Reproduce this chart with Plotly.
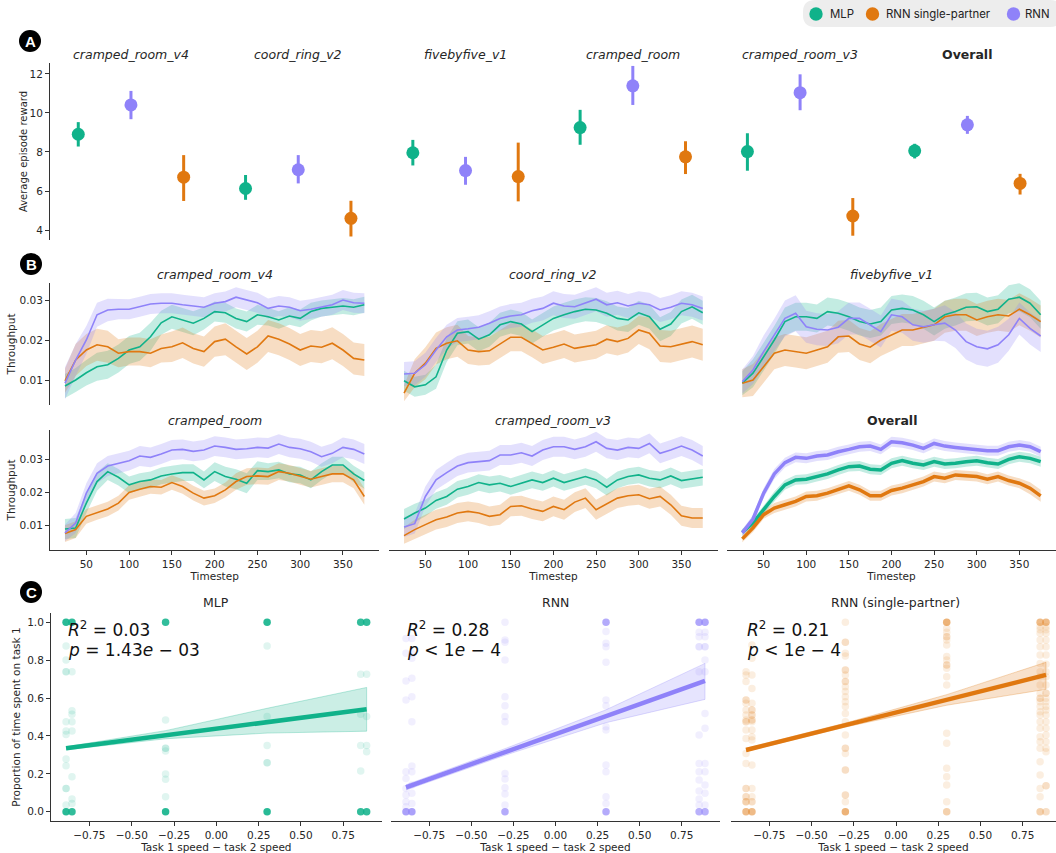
import plotly.graph_objects as go

W, H = 1056, 853
def px(x): return x / W
def py(y): return 1 - y / H

GREEN = "#10b28a"
ORANGE = "#e07810"
PURPLE = "#8f82f9"
FONT = "DejaVu Sans"
TXT = "#262626"

def rgba(hexc, a):
    h = hexc.lstrip("#")
    return f"rgba({int(h[0:2],16)},{int(h[2:4],16)},{int(h[4:6],16)},{a})"

# ---------------- Panel A data ----------------
envs = ["cramped_room_v4", "coord_ring_v2", "fivebyfive_v1", "cramped_room", "cramped_room_v3", "Overall"]
mlp_mean = [8.91, 6.13, 7.96, 9.25, 8.02, 8.06]
mlp_lo = [8.28, 5.55, 7.31, 8.37, 7.04, 7.67]
mlp_hi = [9.53, 6.82, 8.62, 10.16, 8.96, 8.42]
rnn_mean = [10.41, 7.09, 7.05, 11.39, 11.04, 9.39]
rnn_lo = [9.68, 6.39, 6.32, 10.41, 10.14, 8.93]
rnn_hi = [11.13, 7.84, 7.75, 12.41, 11.98, 9.85]
sp_mean = [6.71, 4.60, 6.74, 7.75, 4.72, 6.39]
sp_lo = [5.49, 3.67, 5.47, 6.87, 3.71, 5.82]
sp_hi = [7.84, 5.50, 8.48, 8.55, 5.64, 6.88]

# ---------------- Panel B data ----------------
timesteps = [25, 37.5, 50, 62.5, 75, 87.5, 100, 112.5, 125, 137.5, 150, 162.5, 175, 187.5, 200,
             212.5, 225, 237.5, 250, 262.5, 275, 287.5, 300, 312.5, 325, 337.5, 350, 362.5, 375]

crv4_mlp = [0.0085,0.0100,0.0118,0.0133,0.0138,0.0154,0.0175,0.0183,0.0208,0.0243,0.0258,0.0250,0.0242,0.0254,0.0271,0.0268,0.0254,0.0246,0.0263,0.0258,0.0250,0.0260,0.0254,0.0271,0.0279,0.0282,0.0285,0.0282,0.0288]
crv4_rnn = [0.0092,0.0150,0.0200,0.0263,0.0275,0.0277,0.0277,0.0283,0.0290,0.0292,0.0292,0.0288,0.0285,0.0282,0.0292,0.0296,0.0307,0.0300,0.0293,0.0279,0.0285,0.0282,0.0273,0.0277,0.0283,0.0288,0.0300,0.0293,0.0292]
crv4_sp = [0.0098,0.0150,0.0175,0.0188,0.0183,0.0167,0.0171,0.0171,0.0167,0.0179,0.0183,0.0193,0.0179,0.0171,0.0196,0.0202,0.0183,0.0165,0.0183,0.0210,0.0202,0.0190,0.0175,0.0185,0.0182,0.0192,0.0175,0.0154,0.0150]
crv4_mlp_ci = [0.0030,0.0030,0.0032,0.0035,0.0035,0.0035,0.0035,0.0035,0.0035,0.0030,0.0030,0.0030,0.0030,0.0028,0.0025,0.0025,0.0025,0.0025,0.0025,0.0022,0.0022,0.0022,0.0022,0.0022,0.0020,0.0020,0.0020,0.0020,0.0020]
crv4_rnn_ci = [0.0040,0.0040,0.0035,0.0030,0.0028,0.0025,0.0025,0.0025,0.0025,0.0025,0.0025,0.0025,0.0025,0.0025,0.0025,0.0025,0.0025,0.0025,0.0025,0.0025,0.0025,0.0025,0.0025,0.0025,0.0025,0.0025,0.0025,0.0025,0.0025]
crv4_sp_ci = [0.0030,0.0040,0.0040,0.0040,0.0040,0.0035,0.0035,0.0035,0.0035,0.0035,0.0038,0.0038,0.0038,0.0038,0.0038,0.0040,0.0040,0.0040,0.0040,0.0040,0.0040,0.0040,0.0040,0.0040,0.0040,0.0040,0.0040,0.0040,0.0040]

cring_mlp = [0.0098,0.0083,0.0088,0.0108,0.0175,0.0217,0.0221,0.0202,0.0213,0.0238,0.0246,0.0240,0.0221,0.0238,0.0254,0.0263,0.0271,0.0277,0.0275,0.0267,0.0254,0.0250,0.0268,0.0258,0.0227,0.0240,0.0271,0.0283,0.0268]
cring_rnn = [0.0115,0.0117,0.0138,0.0175,0.0208,0.0225,0.0228,0.0232,0.0242,0.0254,0.0260,0.0263,0.0273,0.0279,0.0292,0.0285,0.0283,0.0292,0.0302,0.0288,0.0293,0.0285,0.0292,0.0288,0.0275,0.0282,0.0292,0.0288,0.0279]
cring_sp = [0.0067,0.0117,0.0142,0.0179,0.0192,0.0198,0.0175,0.0171,0.0173,0.0190,0.0207,0.0207,0.0192,0.0175,0.0182,0.0190,0.0179,0.0183,0.0188,0.0202,0.0196,0.0204,0.0225,0.0217,0.0185,0.0183,0.0190,0.0196,0.0188]
cring_mlp_ci = [0.0025,0.0025,0.0025,0.0030,0.0030,0.0030,0.0030,0.0030,0.0030,0.0030,0.0030,0.0030,0.0030,0.0030,0.0030,0.0030,0.0030,0.0030,0.0030,0.0030,0.0030,0.0030,0.0030,0.0030,0.0030,0.0030,0.0030,0.0030,0.0030]
cring_rnn_ci = [0.0030,0.0030,0.0030,0.0030,0.0030,0.0030,0.0030,0.0030,0.0030,0.0030,0.0030,0.0030,0.0030,0.0030,0.0030,0.0030,0.0030,0.0030,0.0030,0.0030,0.0030,0.0030,0.0030,0.0030,0.0030,0.0030,0.0030,0.0030,0.0030]
cring_sp_ci = [0.0020,0.0035,0.0040,0.0040,0.0040,0.0040,0.0035,0.0035,0.0035,0.0035,0.0035,0.0035,0.0035,0.0035,0.0035,0.0035,0.0035,0.0035,0.0035,0.0035,0.0035,0.0035,0.0035,0.0040,0.0040,0.0040,0.0040,0.0040,0.0040]

fbf_mlp = [0.0092,0.0117,0.0158,0.0200,0.0246,0.0258,0.0258,0.0254,0.0271,0.0267,0.0258,0.0246,0.0240,0.0246,0.0275,0.0279,0.0275,0.0263,0.0246,0.0263,0.0271,0.0282,0.0283,0.0271,0.0277,0.0302,0.0307,0.0292,0.0263]
fbf_rnn = [0.0096,0.0125,0.0171,0.0213,0.0254,0.0267,0.0233,0.0227,0.0225,0.0232,0.0254,0.0254,0.0238,0.0221,0.0263,0.0258,0.0238,0.0233,0.0238,0.0242,0.0225,0.0196,0.0183,0.0178,0.0188,0.0213,0.0254,0.0229,0.0210]
fbf_sp = [0.0092,0.0100,0.0133,0.0167,0.0175,0.0171,0.0167,0.0175,0.0183,0.0208,0.0210,0.0190,0.0182,0.0200,0.0213,0.0225,0.0225,0.0232,0.0238,0.0258,0.0263,0.0263,0.0250,0.0258,0.0263,0.0260,0.0277,0.0263,0.0246]
fbf_mlp_ci = [0.0030,0.0035,0.0035,0.0035,0.0035,0.0035,0.0035,0.0035,0.0035,0.0035,0.0035,0.0035,0.0035,0.0035,0.0035,0.0035,0.0035,0.0035,0.0035,0.0035,0.0035,0.0035,0.0035,0.0035,0.0035,0.0035,0.0035,0.0035,0.0035]
fbf_rnn_ci = [0.0030,0.0035,0.0040,0.0040,0.0045,0.0045,0.0040,0.0040,0.0040,0.0040,0.0040,0.0040,0.0040,0.0040,0.0040,0.0040,0.0040,0.0040,0.0040,0.0045,0.0045,0.0045,0.0045,0.0045,0.0045,0.0040,0.0040,0.0040,0.0040]
fbf_sp_ci = [0.0035,0.0040,0.0040,0.0040,0.0040,0.0040,0.0040,0.0040,0.0040,0.0040,0.0040,0.0040,0.0040,0.0040,0.0040,0.0040,0.0040,0.0040,0.0040,0.0040,0.0040,0.0040,0.0040,0.0040,0.0040,0.0040,0.0040,0.0040,0.0040]

cr_mlp = [0.0089,0.0092,0.0167,0.0232,0.0262,0.0245,0.0222,0.0232,0.0237,0.0249,0.0255,0.0259,0.0259,0.0237,0.0262,0.0247,0.0239,0.0227,0.0265,0.0262,0.0267,0.0255,0.0252,0.0237,0.0262,0.0282,0.0282,0.0255,0.0235]
cr_rnn = [0.0077,0.0107,0.0197,0.0257,0.0279,0.0287,0.0295,0.0309,0.0305,0.0315,0.0327,0.0329,0.0323,0.0327,0.0339,0.0335,0.0329,0.0331,0.0335,0.0333,0.0345,0.0335,0.0331,0.0322,0.0307,0.0317,0.0335,0.0329,0.0315]
cr_sp = [0.0075,0.0087,0.0127,0.0139,0.0149,0.0167,0.0199,0.0209,0.0217,0.0215,0.0229,0.0217,0.0197,0.0182,0.0189,0.0207,0.0232,0.0247,0.0249,0.0247,0.0262,0.0257,0.0247,0.0239,0.0247,0.0255,0.0255,0.0237,0.0187]
cr_mlp_ci = [0.0030,0.0030,0.0030,0.0028,0.0025,0.0025,0.0025,0.0025,0.0025,0.0025,0.0025,0.0025,0.0025,0.0025,0.0028,0.0030,0.0030,0.0030,0.0028,0.0025,0.0025,0.0025,0.0025,0.0025,0.0025,0.0025,0.0025,0.0025,0.0025]
cr_rnn_ci = [0.0025,0.0030,0.0030,0.0030,0.0030,0.0030,0.0030,0.0030,0.0030,0.0030,0.0030,0.0030,0.0030,0.0030,0.0030,0.0030,0.0030,0.0030,0.0030,0.0030,0.0030,0.0030,0.0030,0.0030,0.0030,0.0030,0.0030,0.0030,0.0030]
cr_sp_ci = [0.0025,0.0025,0.0022,0.0022,0.0022,0.0022,0.0022,0.0022,0.0022,0.0022,0.0022,0.0022,0.0022,0.0022,0.0022,0.0022,0.0025,0.0025,0.0025,0.0025,0.0025,0.0025,0.0025,0.0025,0.0025,0.0025,0.0025,0.0025,0.0025]

crv3_mlp = [0.0119,0.0137,0.0152,0.0175,0.0187,0.0209,0.0217,0.0229,0.0222,0.0227,0.0217,0.0227,0.0237,0.0229,0.0242,0.0229,0.0237,0.0247,0.0237,0.0215,0.0237,0.0247,0.0252,0.0242,0.0237,0.0249,0.0235,0.0239,0.0245]
crv3_rnn = [0.0095,0.0105,0.0187,0.0237,0.0259,0.0279,0.0289,0.0292,0.0295,0.0312,0.0312,0.0319,0.0309,0.0327,0.0337,0.0337,0.0329,0.0337,0.0352,0.0332,0.0327,0.0335,0.0332,0.0347,0.0317,0.0327,0.0339,0.0327,0.0309]
crv3_sp = [0.0069,0.0087,0.0102,0.0117,0.0125,0.0137,0.0142,0.0137,0.0127,0.0132,0.0157,0.0159,0.0149,0.0142,0.0157,0.0147,0.0170,0.0182,0.0147,0.0165,0.0182,0.0189,0.0192,0.0180,0.0187,0.0162,0.0129,0.0122,0.0122]
crv3_mlp_ci = [0.0030,0.0028,0.0025,0.0025,0.0025,0.0025,0.0025,0.0025,0.0025,0.0025,0.0025,0.0025,0.0025,0.0025,0.0025,0.0025,0.0025,0.0025,0.0025,0.0025,0.0025,0.0025,0.0025,0.0025,0.0025,0.0025,0.0025,0.0025,0.0025]
crv3_rnn_ci = [0.0030,0.0030,0.0030,0.0030,0.0030,0.0030,0.0030,0.0030,0.0030,0.0030,0.0030,0.0030,0.0030,0.0030,0.0030,0.0030,0.0030,0.0030,0.0030,0.0030,0.0030,0.0030,0.0030,0.0030,0.0030,0.0030,0.0030,0.0030,0.0030]
crv3_sp_ci = [0.0025,0.0030,0.0030,0.0030,0.0030,0.0030,0.0030,0.0030,0.0030,0.0030,0.0030,0.0030,0.0030,0.0030,0.0030,0.0030,0.0030,0.0030,0.0030,0.0030,0.0030,0.0030,0.0030,0.0030,0.0030,0.0030,0.0030,0.0030,0.0030]

ovr_mlp = [0.0079,0.0107,0.0147,0.0187,0.0222,0.0237,0.0239,0.0247,0.0255,0.0267,0.0277,0.0279,0.0269,0.0267,0.0287,0.0295,0.0287,0.0282,0.0292,0.0285,0.0287,0.0292,0.0295,0.0289,0.0285,0.0299,0.0307,0.0302,0.0292]
ovr_rnn = [0.0077,0.0119,0.0197,0.0255,0.0289,0.0305,0.0302,0.0309,0.0312,0.0322,0.0329,0.0337,0.0339,0.0329,0.0352,0.0349,0.0342,0.0332,0.0347,0.0339,0.0335,0.0332,0.0329,0.0325,0.0325,0.0337,0.0342,0.0337,0.0322]
ovr_sp = [0.0059,0.0092,0.0132,0.0152,0.0162,0.0172,0.0187,0.0189,0.0197,0.0209,0.0219,0.0207,0.0189,0.0189,0.0205,0.0212,0.0222,0.0232,0.0247,0.0242,0.0252,0.0249,0.0247,0.0239,0.0247,0.0235,0.0227,0.0212,0.0189]
ovr_mlp_ci = [0.0010,0.0012,0.0012,0.0015,0.0015,0.0015,0.0015,0.0015,0.0015,0.0015,0.0015,0.0015,0.0015,0.0015,0.0015,0.0015,0.0015,0.0015,0.0015,0.0015,0.0015,0.0015,0.0015,0.0015,0.0015,0.0015,0.0015,0.0015,0.0015]
ovr_rnn_ci = [0.0010,0.0012,0.0015,0.0015,0.0015,0.0015,0.0015,0.0015,0.0015,0.0015,0.0015,0.0015,0.0015,0.0015,0.0015,0.0015,0.0015,0.0015,0.0015,0.0015,0.0015,0.0015,0.0015,0.0015,0.0015,0.0015,0.0015,0.0015,0.0015]
ovr_sp_ci = [0.0010,0.0012,0.0012,0.0015,0.0015,0.0015,0.0015,0.0015,0.0015,0.0015,0.0015,0.0015,0.0015,0.0015,0.0015,0.0015,0.0015,0.0015,0.0015,0.0015,0.0015,0.0015,0.0015,0.0015,0.0015,0.0015,0.0015,0.0018,0.0018]

# ---------------- Panel C data ----------------
c_x = [-0.888, -0.853, -0.3, 0.3, 0.853, 0.888]
# (proportion, number of overlapping runs) per x value
mlp_pts = [
    [(1.0, 16), (0.875, 1), (0.801, 1), (0.739, 2), (0.475, 1), (0.426, 1), (0.408, 1), (0.278, 1), (0.243, 1), (0.123, 2), (0.035, 1), (0.0, 16)],
    [(1.0, 14), (0.739, 1), (0.533, 1), (0.514, 1), (0.475, 1), (0.426, 1), (0.185, 1), (0.067, 1), (0.044, 1), (0.0, 14)],
    [(1.0, 14), (0.484, 1), (0.335, 2), (0.320, 1), (0.199, 1), (0.171, 1), (0.079, 1), (0.0, 16)],
    [(1.0, 16), (0.875, 1), (0.502, 1), (0.349, 1), (0.259, 2), (0.0, 16)],
    [(1.0, 14), (0.725, 1), (0.514, 1), (0.349, 1), (0.215, 1), (0.0, 14)],
    [(1.0, 14), (0.725, 1), (0.502, 1), (0.349, 1), (0.317, 1), (0.0, 14)],
]
rnn_pts = [
    [(0.915, 1), (0.836, 1), (0.690, 1), (0.590, 1), (0.211, 1), (0.176, 1), (0.123, 1), (0.088, 1), (0.053, 1), (0.026, 1), (0.0, 10)],
    [(0.915, 1), (0.836, 1), (0.810, 1), (0.704, 1), (0.607, 1), (0.475, 1), (0.241, 1), (0.211, 1), (0.141, 1), (0.097, 1), (0.044, 1), (0.0, 10)],
    [(1.0, 1), (0.907, 1), (0.894, 1), (0.801, 1), (0.607, 1), (0.560, 1), (0.502, 1), (0.475, 1), (0.202, 1), (0.173, 1), (0.127, 1), (0.093, 1), (0.035, 1), (0.0, 8)],
    [(1.0, 8), (0.951, 1), (0.889, 1), (0.871, 1), (0.789, 1), (0.590, 1), (0.560, 1), (0.449, 1), (0.431, 1), (0.246, 1), (0.211, 1), (0.079, 1), (0.044, 1), (0.0, 8)],
    [(1.0, 9), (0.947, 1), (0.924, 1), (0.871, 2), (0.739, 1), (0.405, 1), (0.255, 1), (0.211, 1), (0.167, 1), (0.109, 1), (0.067, 1), (0.035, 1), (0.0, 7)],
    [(1.0, 9), (0.947, 1), (0.924, 1), (0.871, 2), (0.801, 1), (0.739, 1), (0.519, 1), (0.440, 1), (0.255, 1), (0.211, 1), (0.141, 1), (0.097, 1), (0.035, 1), (0.0, 7)],
]
sp_pts = [
    [(0.739, 1), (0.722, 1), (0.687, 1), (0.590, 2), (0.572, 1), (0.537, 1), (0.511, 1), (0.484, 1), (0.475, 2), (0.431, 1), (0.387, 1), (0.308, 1), (0.255, 1), (0.123, 2), (0.079, 2), (0.053, 3), (0.0, 5)],
    [(0.880, 1), (0.810, 1), (0.722, 1), (0.651, 1), (0.572, 1), (0.537, 2), (0.511, 2), (0.484, 2), (0.475, 1), (0.431, 1), (0.396, 1), (0.379, 1), (0.246, 1), (0.123, 1), (0.079, 1), (0.053, 2), (0.0, 5)],
    [(1.0, 1), (0.894, 2), (0.836, 1), (0.822, 1), (0.748, 2), (0.722, 1), (0.687, 2), (0.660, 1), (0.634, 1), (0.607, 1), (0.581, 1), (0.555, 1), (0.519, 1), (0.475, 1), (0.405, 1), (0.335, 2), (0.308, 1), (0.220, 2), (0.088, 2), (0.053, 1), (0.0, 6)],
    [(1.0, 6), (0.968, 1), (0.947, 1), (0.924, 2), (0.907, 1), (0.880, 1), (0.819, 1), (0.801, 1), (0.775, 2), (0.757, 1), (0.713, 1), (0.669, 1), (0.414, 1), (0.361, 1), (0.229, 1), (0.185, 1), (0.141, 1), (0.053, 1), (0.0, 3)],
    [(1.0, 5), (0.977, 1), (0.960, 1), (0.942, 1), (0.907, 1), (0.871, 1), (0.827, 1), (0.783, 1), (0.739, 1), (0.713, 1), (0.669, 1), (0.625, 1), (0.599, 2), (0.581, 1), (0.555, 1), (0.528, 1), (0.511, 1), (0.475, 1), (0.440, 1), (0.396, 1), (0.370, 1), (0.335, 1), (0.264, 1), (0.194, 1), (0.123, 1), (0.079, 1), (0.0, 3)],
    [(1.0, 5), (0.977, 1), (0.960, 1), (0.942, 1), (0.907, 1), (0.871, 1), (0.827, 1), (0.778, 1), (0.739, 1), (0.713, 1), (0.669, 1), (0.625, 2), (0.599, 1), (0.581, 1), (0.555, 1), (0.537, 1), (0.511, 1), (0.475, 1), (0.440, 1), (0.405, 1), (0.370, 1), (0.335, 1), (0.317, 1), (0.137, 2), (0.0, 2)],
]
# regression fits (intercept, slope) and 95% CI band
fit_mlp = (0.438, 0.116)
fit_rnn = (0.4095, 0.316)
fit_sp = (0.524, 0.223)
ci_x = [-0.888, -0.3, 0.3, 0.888]
ci_mlp_lo = [0.327, 0.385, 0.415, 0.425]
ci_mlp_hi = [0.343, 0.428, 0.546, 0.656]
ci_rnn_lo = [0.115, 0.298, 0.470, 0.593]
ci_rnn_hi = [0.142, 0.333, 0.538, 0.783]
ci_sp_lo = [0.318, 0.447, 0.562, 0.646]
ci_sp_hi = [0.335, 0.468, 0.618, 0.789]
c_r2 = ["0.03", "0.28", "0.21"]
c_p = ["= 1.43<i>e</i> − 03", "&lt; 1<i>e</i> − 4", "&lt; 1<i>e</i> − 4"]
c_titles = ["MLP", "RNN", "RNN (single-partner)"]

legend_names = ["MLP", "RNN single-partner", "RNN"]

# ---------------- build figure ----------------
fig = go.Figure()
model_cols = {"MLP": GREEN, "RNN single-partner": ORANGE, "RNN": PURPLE}

# Panel A
offsets = [-0.315, 0.0, 0.315]
for off, mean, lo, hi, col in [(offsets[0], mlp_mean, mlp_lo, mlp_hi, GREEN),
                               (offsets[1], rnn_mean, rnn_lo, rnn_hi, PURPLE),
                               (offsets[2], sp_mean, sp_lo, sp_hi, ORANGE)]:
    fig.add_trace(go.Scatter(
        x=[i + off for i in range(len(envs))], y=mean, mode="markers",
        marker=dict(size=13, color=col),
        error_y=dict(type="data", symmetric=False,
                     array=[h - m for h, m in zip(hi, mean)],
                     arrayminus=[m - l for m, l in zip(mean, lo)],
                     thickness=3, width=0, color=col),
        xaxis="x", yaxis="y", showlegend=False, hoverinfo="skip"))

# Panel B
b_panels = [
    ("cramped_room_v4", 2, (crv4_mlp, crv4_mlp_ci), (crv4_rnn, crv4_rnn_ci), (crv4_sp, crv4_sp_ci)),
    ("coord_ring_v2", 3, (cring_mlp, cring_mlp_ci), (cring_rnn, cring_rnn_ci), (cring_sp, cring_sp_ci)),
    ("fivebyfive_v1", 4, (fbf_mlp, fbf_mlp_ci), (fbf_rnn, fbf_rnn_ci), (fbf_sp, fbf_sp_ci)),
    ("cramped_room", 5, (cr_mlp, cr_mlp_ci), (cr_rnn, cr_rnn_ci), (cr_sp, cr_sp_ci)),
    ("cramped_room_v3", 6, (crv3_mlp, crv3_mlp_ci), (crv3_rnn, crv3_rnn_ci), (crv3_sp, crv3_sp_ci)),
    ("Overall", 7, (ovr_mlp, ovr_mlp_ci), (ovr_rnn, ovr_rnn_ci), (ovr_sp, ovr_sp_ci)),
]
for title, ax, mlp, rnn, sp in b_panels:
    lw = 3.5 if title == "Overall" else 1.6
    series = [(mlp, GREEN), (sp, ORANGE), (rnn, PURPLE)]
    for (vals, ci), col in series:
        upper = [v + c for v, c in zip(vals, ci)]
        lower = [v - c for v, c in zip(vals, ci)]
        fig.add_trace(go.Scatter(x=timesteps + timesteps[::-1], y=upper + lower[::-1],
                                 fill="toself", fillcolor=rgba(col, 0.25), line=dict(width=0),
                                 mode="lines", xaxis=f"x{ax}", yaxis=f"y{ax}",
                                 showlegend=False, hoverinfo="skip"))
    for (vals, ci), col in series:
        fig.add_trace(go.Scatter(x=timesteps, y=vals, mode="lines",
                                 line=dict(color=col, width=lw),
                                 xaxis=f"x{ax}", yaxis=f"y{ax}", showlegend=False))

# Panel C
c_models = [(mlp_pts, fit_mlp, ci_mlp_lo, ci_mlp_hi, GREEN, 8),
            (rnn_pts, fit_rnn, ci_rnn_lo, ci_rnn_hi, PURPLE, 9),
            (sp_pts, fit_sp, ci_sp_lo, ci_sp_hi, ORANGE, 10)]
alpha = 0.13
for pts, fit, lo, hi, col, ax in c_models:
    xs, ys, ops = [], [], []
    for xv, group in zip(c_x, pts):
        for yv, n in group:
            xs.append(xv)
            ys.append(yv)
            ops.append(1 - (1 - alpha) ** n)
    fig.add_trace(go.Scatter(x=xs, y=ys, mode="markers",
                             marker=dict(size=7.5, color=col, opacity=ops, line=dict(width=0)),
                             xaxis=f"x{ax}", yaxis=f"y{ax}", showlegend=False))
    fig.add_trace(go.Scatter(x=ci_x + ci_x[::-1], y=hi + lo[::-1], fill="toself",
                             fillcolor=rgba(col, 0.22), line=dict(width=0.8, color=rgba(col, 0.35)),
                             mode="lines", xaxis=f"x{ax}", yaxis=f"y{ax}",
                             showlegend=False, hoverinfo="skip"))
    x0, x1 = c_x[0], c_x[-1]
    fig.add_trace(go.Scatter(x=[x0, x1], y=[fit[0] + fit[1] * x0, fit[0] + fit[1] * x1],
                             mode="lines", line=dict(color=col, width=4.5),
                             xaxis=f"x{ax}", yaxis=f"y{ax}", showlegend=False))

# ---------------- axes ----------------
tickfont = dict(family=FONT, size=10.5, color=TXT)
labfont = dict(family=FONT, size=10.5, color=TXT)

def shown(domain, rng, **kw):
    d = dict(domain=domain, range=rng, showgrid=False, zeroline=False, showline=True,
             linecolor="#333333", linewidth=1, ticks="outside", ticklen=4, tickwidth=1,
             tickcolor="#333333", tickfont=tickfont, automargin=False, fixedrange=True)
    d.update(kw)
    return d

def hidden(domain, rng, **kw):
    d = dict(domain=domain, range=rng, visible=False, showgrid=False, zeroline=False,
             automargin=False, fixedrange=True)
    d.update(kw)
    return d

layout = {}
# A
layout["xaxis"] = hidden([px(50), px(1046)], [-0.484, 5.47], anchor="y")
layout["yaxis"] = shown([py(240), py(63)], [3.49, 12.56], anchor="x",
                        tickvals=[4, 6, 8, 10, 12],
                        title=dict(text="Average episode reward",
                                   font=dict(family=FONT, size=10, color=TXT), standoff=0))

bx = [[px(50.0), px(379.3)], [px(389.1), px(717.7)], [px(727.4), px(1055.6)]]
by = [[py(405), py(283)], [py(550), py(430)]]
byr = [[0.00375, 0.03425], [0.00255, 0.03875]]
trange = [7.5, 392.5]
b_ytick = dict(tickvals=[0.01, 0.02, 0.03], ticktext=["0.01", "0.02", "0.03"])
for k, ax in enumerate(range(2, 8)):
    r, c = divmod(k, 3)
    xk, yk = f"xaxis{ax}", f"yaxis{ax}"
    if r == 0:
        layout[xk] = hidden(bx[c], trange, anchor=f"y{ax}")
    else:
        layout[xk] = shown(bx[c], trange, anchor=f"y{ax}",
                           tickvals=[50, 100, 150, 200, 250, 300, 350],
                           title=dict(text="Timestep", font=labfont, standoff=3))
    if c == 0:
        layout[yk] = shown(by[r], byr[r], anchor=f"x{ax}", **b_ytick,
                           title=dict(text="Throughput", font=labfont, standoff=1))
    else:
        layout[yk] = hidden(by[r], byr[r], anchor=f"x{ax}")

cx = [[px(51), px(381.7)], [px(391), px(720)], [px(731), px(1056)]]
crng = [[-0.977, 0.977], [-0.977, 0.977], [-0.977, 0.947]]
cy = [py(821.2), py(612.8)]
xt = dict(tickvals=[-0.75, -0.5, -0.25, 0, 0.25, 0.5, 0.75],
          ticktext=["−0.75", "−0.50", "−0.25", "0.00", "0.25", "0.50", "0.75"])
for c, ax in enumerate([8, 9, 10]):
    layout[f"xaxis{ax}"] = shown(cx[c], crng[c], anchor=f"y{ax}", **xt,
                                 title=dict(text="Task 1 speed − task 2 speed", font=labfont, standoff=3))
    if c == 0:
        layout[f"yaxis{ax}"] = shown(cy, [-0.05, 1.05], anchor=f"x{ax}",
                                     tickvals=[0, 0.2, 0.4, 0.6, 0.8, 1.0],
                                     ticktext=["0.0", "0.2", "0.4", "0.6", "0.8", "1.0"],
                                     title=dict(text="Proportion of time spent on task 1", font=labfont, standoff=4))
    else:
        layout[f"yaxis{ax}"] = hidden(cy, [-0.05, 1.05], anchor=f"x{ax}")

# ---------------- annotations ----------------
ann = []
tfont = dict(family=FONT, size=12.5, color=TXT)
for i, e in enumerate(envs):
    txt = "<b>Overall</b>" if e == "Overall" else f"<i>{e}</i>"
    ann.append(dict(x=i, xref="x", y=py(54.5), yref="paper", text=txt, showarrow=False,
                    font=tfont, xanchor="center", yanchor="middle"))
for k, (title, ax, *_r) in enumerate(b_panels):
    r, c = divmod(k, 3)
    txt = "<b>Overall</b>" if title == "Overall" else f"<i>{title}</i>"
    ann.append(dict(x=(bx[c][0] + bx[c][1]) / 2, xref="paper", y=py([274, 420.5][r]), yref="paper",
                    text=txt, showarrow=False, font=tfont, xanchor="center", yanchor="middle"))
for c in range(3):
    ann.append(dict(x=[216, 555, 895][c] / W, xref="paper", y=py(602.5), yref="paper",
                    text=c_titles[c], showarrow=False, font=tfont, xanchor="center", yanchor="middle"))
    lx = [66, 405, 745][c]
    ann.append(dict(x=px(lx), xref="paper", y=py(628.5), yref="paper",
                    text=f"<i>R</i><sup>2</sup> = {c_r2[c]}", showarrow=False,
                    font=dict(family=FONT, size=17, color="#111"), xanchor="left", yanchor="middle"))
    ann.append(dict(x=px(lx), xref="paper", y=py(649.5), yref="paper",
                    text=f"<i>p</i> {c_p[c]}", showarrow=False,
                    font=dict(family=FONT, size=17, color="#111"), xanchor="left", yanchor="middle"))

shapes = []
for letter, (cxp, cyp) in zip("ABC", [(30, 41), (31, 264), (31, 592)]):
    r = 11
    shapes.append(dict(type="circle", xref="paper", yref="paper",
                       x0=px(cxp - r), x1=px(cxp + r), y0=py(cyp + r), y1=py(cyp - r),
                       fillcolor="black", line=dict(width=0)))
    ann.append(dict(x=px(cxp), xref="paper", y=py(cyp + 0.5), yref="paper", text=f"<b>{letter}</b>",
                    showarrow=False, font=dict(family="Liberation Sans", size=15, color="white"),
                    xanchor="center", yanchor="middle"))

# legend: rounded grey box with coloured dots
lx0, lx1, ly0, ly1, rr = 803, 1062, 0, 27, 12
path = (f"M {px(lx0 + rr)} {py(ly0)} L {px(lx1 - rr)} {py(ly0)} "
        f"Q {px(lx1)} {py(ly0)} {px(lx1)} {py(ly0 + rr)} L {px(lx1)} {py(ly1 - rr)} "
        f"Q {px(lx1)} {py(ly1)} {px(lx1 - rr)} {py(ly1)} L {px(lx0 + rr)} {py(ly1)} "
        f"Q {px(lx0)} {py(ly1)} {px(lx0)} {py(ly1 - rr)} L {px(lx0)} {py(ly0 + rr)} "
        f"Q {px(lx0)} {py(ly0)} {px(lx0 + rr)} {py(ly0)} Z")
shapes.append(dict(type="path", path=path, xref="paper", yref="paper",
                   fillcolor="#ededed", line=dict(width=0), layer="below"))
for name, dot_x, text_x in zip(legend_names, [816, 872.5, 1013.5], [827.5, 883.5, 1022.5]):
    rd = 6.7
    shapes.append(dict(type="circle", xref="paper", yref="paper",
                       x0=px(dot_x - rd), x1=px(dot_x + rd), y0=py(14 + rd), y1=py(14 - rd),
                       fillcolor=model_cols[name], line=dict(width=0)))
    ann.append(dict(x=px(text_x), xref="paper", y=py(14), yref="paper", text=name,
                    showarrow=False, font=dict(family="Inter", size=11.4, color="#222"),
                    xanchor="left", yanchor="middle"))

fig.update_layout(
    width=W, height=H, margin=dict(l=0, r=0, t=0, b=0),
    paper_bgcolor="white", plot_bgcolor="white",
    font=dict(family=FONT, color=TXT),
    showlegend=False,
    annotations=ann, shapes=shapes, hovermode=False,
    **layout)

fig.write_html("out.html", config={"displayModeBar": False, "staticPlot": False},
               post_script="document.body.style.margin='0';document.body.style.overflow='hidden';")
